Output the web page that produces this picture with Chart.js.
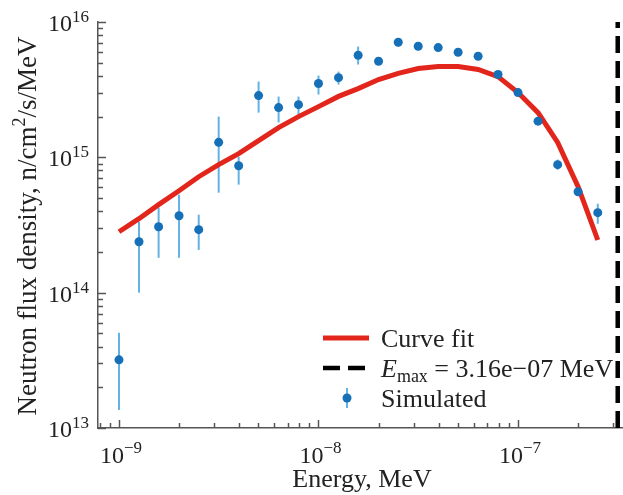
<!DOCTYPE html>
<html>
<head>
<meta charset="utf-8">
<script src="https://cdn.jsdelivr.net/npm/chart.js@4.4.1/dist/chart.umd.min.js"></script>
<style>
  html, body { margin: 0; padding: 0; background: #fff; }
  canvas { display: block; }
</style>
</head>
<body>
<canvas id="chart" width="623" height="495"></canvas>
<script>
// energy bins, MeV
var energies = [1.00e-9, 1.26e-9, 1.58e-9, 2.00e-9, 2.51e-9, 3.16e-9, 3.98e-9, 5.01e-9, 6.31e-9, 7.94e-9,
                1.00e-8, 1.26e-8, 1.58e-8, 2.00e-8, 2.51e-8, 3.16e-8, 3.98e-8, 5.01e-8, 6.31e-8, 7.94e-8,
                1.00e-7, 1.26e-7, 1.58e-7, 2.00e-7, 2.51e-7];

// simulated flux and its error bar ends
var simFlux = [3.19e13, 2.38e14, 3.07e14, 3.70e14, 2.92e14, 1.29e15, 8.67e14, 2.86e15, 2.33e15, 2.45e15,
               3.51e15, 3.88e15, 5.68e15, 5.13e15, 7.09e15, 6.62e15, 6.47e15, 5.98e15, 5.58e15, 4.09e15,
               3.01e15, 1.85e15, 8.83e14, 5.57e14, 3.90e14];
var simLow = [1.36e13, 1.00e14, 1.81e14, 1.81e14, 2.07e14, 5.48e14, 6.28e14, 2.14e15, 1.81e15, 2.03e15,
              2.91e15, 3.45e15, 4.85e15, 4.87e15, 6.59e15, 6.30e15, 6.20e15, 5.75e15, 5.37e15, 3.93e15,
              2.88e15, 1.76e15, 8.11e14, 5.30e14, 3.23e14];
var simHigh = [5.05e13, 3.34e14, 4.24e14, 5.30e14, 3.77e14, 2.00e15, 1.01e15, 3.63e15, 2.81e15, 2.81e15,
               4.02e15, 4.30e15, 6.59e15, 5.40e15, 7.55e15, 6.95e15, 6.75e15, 6.22e15, 5.80e15, 4.26e15,
               3.15e15, 1.94e15, 9.62e14, 5.85e14, 4.54e14];

// curve fit evaluated at the same energies
var fitFlux = [2.82e14, 3.52e14, 4.47e14, 5.66e14, 7.19e14, 8.83e14, 1.065e15, 1.33e15, 1.66e15, 2.00e15,
               2.37e15, 2.82e15, 3.22e15, 3.76e15, 4.17e15, 4.53e15, 4.69e15, 4.69e15, 4.46e15, 3.95e15,
               3.01e15, 2.14e15, 1.29e15, 6.07e14, 2.45e14];

var eMax = 3.16e-7;
var xRange = [7.85e-10, 3.32e-7];
var yRange = [1e13, 1e16];
var xMajor = [1e-9, 1e-8, 1e-7];
var xMajorExp = ['\u22129', '\u22128', '\u22127'];
var yMajor = [1e13, 1e14, 1e15, 1e16];
var yMajorExp = ['13', '14', '15', '16'];

var SERIF = "'Liberation Serif', 'DejaVu Serif', serif";
var AXIS = '#555555';
var RED = '#e2261c';
var BLUE = '#1570b8';
var ERR = '#62b2e4';

function pts(xs, ys) {
    return xs.map(function(x, i) { return {x: x, y: ys[i]}; });
}

// draw a row of text pieces (size, vertical shift, italic) as one label
function drawRich(ctx, parts, x, y, align) {
    var w = 0;
    parts.forEach(function(p) {
        ctx.font = (p.italic ? 'italic ' : '') + p.size + 'px ' + SERIF;
        p.w = ctx.measureText(p.t).width;
        w += p.w;
    });
    var cx = x;
    if (align === 'center') cx = x - w / 2;
    if (align === 'right') cx = x - w;
    ctx.textAlign = 'left';
    ctx.textBaseline = 'alphabetic';
    parts.forEach(function(p) {
        ctx.font = (p.italic ? 'italic ' : '') + p.size + 'px ' + SERIF;
        ctx.fillText(p.t, cx, y + (p.dy || 0));
        cx += p.w;
    });
}

function minorValues(lo, hi) {
    var out = [];
    for (var d = Math.floor(Math.log10(lo)); d <= Math.ceil(Math.log10(hi)); d++) {
        for (var m = 2; m <= 9; m++) {
            var v = m * Math.pow(10, d);
            if (v >= lo && v <= hi) out.push(v);
        }
    }
    return out;
}

var errorBars = {
    id: 'errorBars',
    beforeDatasetsDraw: function(chart) {
        var ctx = chart.ctx, xs = chart.scales.x, ys = chart.scales.y;
        ctx.save();
        ctx.strokeStyle = ERR;
        ctx.lineWidth = 2;
        energies.forEach(function(e, i) {
            var px = xs.getPixelForValue(e);
            ctx.beginPath();
            ctx.moveTo(px, ys.getPixelForValue(simLow[i]));
            ctx.lineTo(px, ys.getPixelForValue(simHigh[i]));
            ctx.stroke();
        });
        ctx.restore();
    }
};

var decorations = {
    id: 'decorations',
    afterDraw: function(chart) {
        var ctx = chart.ctx, xs = chart.scales.x, ys = chart.scales.y;
        var area = chart.chartArea;
        ctx.save();
        ctx.strokeStyle = AXIS;
        ctx.lineWidth = 1.5;

        // inward tick marks
        minorValues(xRange[0], xRange[1]).forEach(function(v) {
            var px = Math.round(xs.getPixelForValue(v)) + 0.5;
            ctx.beginPath(); ctx.moveTo(px, area.bottom); ctx.lineTo(px, area.bottom - 5); ctx.stroke();
        });
        xMajor.forEach(function(v) {
            var px = Math.round(xs.getPixelForValue(v)) + 0.5;
            ctx.beginPath(); ctx.moveTo(px, area.bottom); ctx.lineTo(px, area.bottom - 8); ctx.stroke();
        });
        minorValues(yRange[0], yRange[1]).forEach(function(v) {
            var py = Math.round(ys.getPixelForValue(v)) + 0.5;
            ctx.beginPath(); ctx.moveTo(area.left, py); ctx.lineTo(area.left + 5, py); ctx.stroke();
        });
        yMajor.forEach(function(v) {
            var py = Math.round(ys.getPixelForValue(v)) + 0.5;
            ctx.beginPath(); ctx.moveTo(area.left, py); ctx.lineTo(area.left + 8, py); ctx.stroke();
        });

        // tick labels
        ctx.fillStyle = '#222';
        xMajor.forEach(function(v, i) {
            var px = xs.getPixelForValue(v);
            drawRich(ctx, [{t: '10', size: 24}, {t: xMajorExp[i], size: 17, dy: -10}], px + 2, area.bottom + 35, 'center');
        });
        yMajor.forEach(function(v, i) {
            var py = ys.getPixelForValue(v);
            drawRich(ctx, [{t: '10', size: 24}, {t: yMajorExp[i], size: 17, dy: -9}], 89, py + 9, 'right');
        });

        // axis titles
        drawRich(ctx, [{t: 'Energy, MeV', size: 26}], (area.left + area.right) / 2 + 2, 487, 'center');
        ctx.save();
        ctx.translate(36, (area.top + area.bottom) / 2 + 1);
        ctx.rotate(-Math.PI / 2);
        drawRich(ctx, [
            {t: 'Neutron flux density, n/cm', size: 27},
            {t: '2', size: 18, dy: -11},
            {t: '/s/MeV', size: 27}
        ], 0, 0, 'center');
        ctx.restore();

        // legend
        ctx.lineCap = 'butt';
        ctx.strokeStyle = RED;
        ctx.lineWidth = 5;
        ctx.beginPath(); ctx.moveTo(323, 338); ctx.lineTo(369, 338); ctx.stroke();
        ctx.strokeStyle = '#000';
        ctx.lineWidth = 4.5;
        ctx.setLineDash([17, 8]);
        ctx.beginPath(); ctx.moveTo(323, 368); ctx.lineTo(369, 368); ctx.stroke();
        ctx.setLineDash([]);
        ctx.strokeStyle = ERR;
        ctx.lineWidth = 2;
        ctx.beginPath(); ctx.moveTo(347, 388); ctx.lineTo(347, 408); ctx.stroke();
        ctx.fillStyle = BLUE;
        ctx.beginPath(); ctx.arc(347, 398, 4.5, 0, Math.PI * 2); ctx.fill();

        ctx.fillStyle = '#222';
        drawRich(ctx, [{t: 'Curve fit', size: 26}], 381, 347, 'left');
        drawRich(ctx, [
            {t: 'E', size: 26, italic: true},
            {t: 'max', size: 18, dy: 5},
            {t: ' = 3.16e\u221207 MeV', size: 26}
        ], 381, 377, 'left');
        drawRich(ctx, [{t: 'Simulated', size: 26}], 381, 407, 'left');
        ctx.restore();
    }
};

new Chart(document.getElementById('chart'), {
    type: 'scatter',
    data: {
        datasets: [
            {
                label: 'Simulated',
                data: pts(energies, simFlux),
                backgroundColor: BLUE,
                borderWidth: 0,
                pointRadius: 4.5,
                order: 0
            },
            {
                label: 'Curve fit',
                data: pts(energies, fitFlux),
                showLine: true,
                borderColor: RED,
                borderWidth: 5,
                pointRadius: 0,
                tension: 0,
                order: 1
            },
            {
                label: 'E_max',
                data: pts([eMax, eMax], yRange),
                showLine: true,
                borderColor: '#000',
                borderWidth: 4.5,
                borderDash: [17, 8],
                pointRadius: 0,
                order: 2
            }
        ]
    },
    options: {
        responsive: false,
        animation: false,
        layout: {autoPadding: false, padding: {left: 0, right: 1, top: 22, bottom: 0}},
        plugins: {legend: {display: false}, tooltip: {enabled: false}},
        scales: {
            x: {
                type: 'logarithmic',
                min: xRange[0],
                max: xRange[1],
                ticks: {display: false},
                grid: {display: false},
                border: {display: true, color: AXIS, width: 1.5},
                afterFit: function(scale) { scale.height = 67; }
            },
            y: {
                type: 'logarithmic',
                min: yRange[0],
                max: yRange[1],
                ticks: {display: false},
                grid: {display: false},
                border: {display: true, color: AXIS, width: 1.5},
                afterFit: function(scale) { scale.width = 98; }
            }
        }
    },
    plugins: [errorBars, decorations]
});
</script>
</body>
</html>
